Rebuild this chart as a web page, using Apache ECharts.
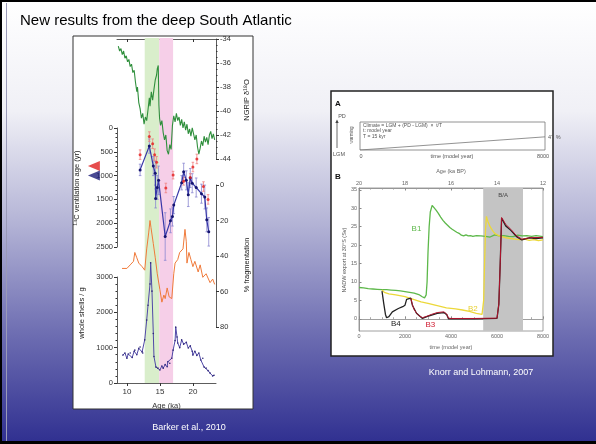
<!DOCTYPE html>
<html><head><meta charset="utf-8">
<script src="https://cdn.jsdelivr.net/npm/echarts@6/dist/echarts.min.js"></script>
<style>html,body{margin:0;padding:0;background:#fff;}#c{width:596px;height:444px;}</style>
</head><body><div id="c"></div>
<script>
// ---------- LEFT PANEL DATA (Barker et al., 2010) ----------
const ageTicks = [10, 15, 20];
const greenBand = [12.7, 14.9];
const pinkBand = [14.9, 17.0];
// NGRIP d18O [age ka, permil]
const ngrip = [[8.7,-34.6],[8.9,-35.0],[9.1,-34.8],[9.3,-35.3],[9.5,-35.0],[9.7,-35.6],[9.9,-35.4],[10.1,-35.9],[10.3,-35.7],[10.5,-36.3],[10.7,-36.1],[10.9,-36.8],[11.1,-36.6],[11.3,-37.6],[11.5,-38.4],[11.6,-38.0],[11.8,-39.3],[12.0,-39.8],[12.2,-40.6],[12.4,-40.2],[12.6,-41.1],[12.8,-40.5],[13.0,-40.8],[13.2,-39.9],[13.4,-38.9],[13.5,-39.6],[13.7,-38.4],[13.9,-39.1],[14.1,-38.2],[14.3,-37.4],[14.5,-37.0],[14.6,-36.5],[14.75,-36.2],[14.85,-39.5],[14.95,-40.6],[15.1,-41.2],[15.3,-40.8],[15.5,-41.8],[15.7,-42.4],[15.9,-42.0],[16.1,-43.3],[16.3,-43.6],[16.5,-42.8],[16.7,-43.2],[16.9,-41.2],[17.1,-40.4],[17.3,-40.9],[17.5,-40.2],[17.7,-40.8],[17.9,-40.5],[18.1,-41.2],[18.3,-40.7],[18.5,-41.4],[18.7,-40.9],[18.9,-41.6],[19.1,-41.1],[19.3,-41.9],[19.5,-41.5],[19.7,-42.1],[19.9,-41.4],[20.1,-41.9],[20.3,-42.4],[20.5,-42.0],[20.7,-43.0],[20.9,-43.6],[21.1,-43.1],[21.3,-42.5],[21.5,-42.9],[21.7,-42.1],[21.9,-42.6],[22.1,-42.2],[22.3,-42.8],[22.5,-42.0],[22.7,-41.7],[22.9,-42.3],[23.1,-41.9],[23.3,-42.4]];
// 14C ventilation age [age ka, yr, error]
const ventBlue = [[12.0,880,120],[13.4,380,150],[14.0,800,200],[14.3,950,250],[14.35,1480,200],[14.6,1250,250],[14.8,1100,300],[15.8,2280,500],[16.6,1950,250],[16.9,1860,200],[17.1,1620,180],[18.3,1150,150],[18.6,920,180],[19.0,1100,200],[19.3,1400,250],[19.6,1050,200],[19.9,1160,200],[20.5,1250,200],[21.3,1380,200],[21.8,1450,250],[22.1,1930,250],[22.4,2180,300]];
const ventRed = [[12.0,560,100],[13.4,180,100],[13.9,330,100],[14.2,560,120],[14.5,720,120],[15.9,1260,100],[17.0,990,80],[18.6,1120,80],[19.6,1040,80],[20.0,820,100],[20.6,650,100],[21.6,1230,100],[22.3,1500,100]];
const modernMarkers = [[5.0,800],[5.0,1000]];
// % fragmentation [age ka, %]
const frag = [[9.26,47],[10.0,47],[10.5,45],[11.0,43],[11.2,38],[11.5,41],[11.8,44],[12.3,46],[12.7,48],[13.0,36],[13.3,27],[13.5,20],[13.65,24],[14.0,33],[14.3,41],[14.6,50],[15.0,59],[15.3,66],[15.6,62],[15.8,64],[16.1,58],[16.4,63],[16.8,64],[17.1,50],[17.3,44],[17.7,42],[18.0,38],[18.5,36],[18.8,25],[19.0,32],[19.1,44],[19.4,38],[19.7,42],[20.0,46],[20.3,43],[20.8,49],[21.1,45],[21.5,52],[22.0,50],[22.6,55],[23.0,53],[23.3,56]];
// whole shells / g [age ka, count]
const shells = [[9.4,790],[9.7,850],[10.0,700],[10.2,820],[10.5,850],[10.8,720],[11.1,900],[11.2,930],[11.5,800],[11.8,980],[12.0,1020],[12.3,880],[12.4,850],[12.7,1220],[13.0,1780],[13.2,2200],[13.5,2800],[13.6,3400],[13.8,2600],[14.0,1400],[14.1,750],[14.4,450],[14.7,420],[15.0,370],[15.3,480],[15.5,420],[15.8,520],[16.1,460],[16.2,600],[16.5,560],[16.8,700],[17.0,930],[17.3,1200],[17.4,1580],[17.6,1300],[17.7,1130],[18.0,1000],[18.3,1220],[18.6,1100],[19.0,1150],[19.3,990],[19.6,1050],[19.9,900],[20.0,790],[20.3,900],[20.6,780],[20.9,850],[21.2,650],[21.5,700],[21.7,450],[22.0,420],[22.3,350],[22.6,280],[23.0,200],[23.2,220]];

// ---------- RIGHT PANEL DATA (Knorr and Lohmann, 2007) ----------
const rampA = [[0,0],[8000,47]];
const baBand = [5400, 7130];
const svTicks = [0,5,10,15,20,25,30,35];
const b1 = [[0,8.5],[200,8.4],[400,8.2],[600,8.1],[800,8.0],[1000,7.9],[1200,7.9],[1400,7.8],[1600,7.7],[1800,7.6],[2000,7.4],[2200,7.2],[2400,7.0],[2600,6.6],[2750,6.0],[2850,5.7],[2920,6.5],[2960,10],[3000,18],[3050,25],[3100,29],[3180,30.8],[3250,30.3],[3350,29.5],[3450,28.6],[3550,27.6],[3650,26.7],[3750,26.0],[3850,25.4],[3950,24.8],[4050,24.3],[4150,23.9],[4250,23.5],[4350,23.2],[4450,22.7],[4550,22.5],[4650,22.8],[4750,22.5],[4850,22.6],[4950,22.4],[5100,22.6],[5300,22.5],[5500,22.4],[5700,22.2],[5900,22.8],[6100,22.5],[6300,22.6],[6500,22.4],[6700,22.3],[6900,22.7],[7100,22.5],[7300,22.6],[7500,22.4],[7700,22.6],[8000,22.3]];
const b2 = [[1000,7.8],[1100,7.2],[1300,6.8],[1600,6.5],[2000,6.0],[2400,5.2],[2700,4.6],[3000,4.2],[3400,3.6],[3800,3.0],[4200,2.7],[4500,2.4],[4800,2.0],[5100,1.5],[5350,1.2],[5420,5],[5460,15],[5500,24],[5540,27.8],[5600,26.5],[5700,25],[5800,24],[5900,23.2],[6000,22.8],[6200,22.3],[6400,22.0],[6600,21.8],[6800,21.6],[7000,21.5],[7200,21.6],[7400,21.3],[7600,21.5],[7800,21.2],[8000,21.4]];
const b3 = [[2250,5.6],[2320,3.9],[2400,2.5],[2500,1.6],[2600,0.9],[2760,0.3],[2950,0.7],[3150,1.2],[3400,1.7],[3690,1.9],[3815,1.3],[3890,0.2],[4000,0.1],[5000,0.1],[6000,0.2],[6080,4],[6140,15],[6200,27.5],[6380,25.6],[6600,24.3],[6850,22.5],[7080,21.6],[7400,22.0],[8000,22.1]];
const b4 = [[1000,7.5],[1080,4.0],[1150,1.2],[1200,0.3],[1300,0.6],[1450,1.9],[1710,2.8],[1900,3.3],[2000,3.7],[2070,5.3],[2250,5.6],[2320,3.7],[2500,1.5],[2760,0.1],[2950,0.6],[3400,1.5],[3690,1.7],[3815,1.1],[3890,0.0],[4000,0.0],[5000,0.0],[6000,0.1],[6080,4],[6140,15],[6200,27.3],[6380,25.2],[6600,24.0],[6850,22.3],[7080,21.4],[7400,22.0],[7700,21.8],[8000,22.0]];

const FF = '"Liberation Sans", Arial, sans-serif';
const chart = echarts.init(document.getElementById('c'), null, {renderer:'canvas'});
const plain = v => String(v);

function errRender(color){
  return function(params, api){
    const x = api.value(0), y = api.value(1), e = api.value(2);
    const p1 = api.coord([x, y - e]), p2 = api.coord([x, y + e]);
    const w = 1.3;
    const st = {stroke: color, lineWidth: 0.8};
    return {type:'group', children:[
      {type:'line', shape:{x1:p1[0],y1:p1[1],x2:p2[0],y2:p2[1]}, style:st},
      {type:'line', shape:{x1:p1[0]-w,y1:p1[1],x2:p1[0]+w,y2:p1[1]}, style:st},
      {type:'line', shape:{x1:p2[0]-w,y1:p2[1],x2:p2[0]+w,y2:p2[1]}, style:st}
    ]};
  };
}

const L = 117, W = 99;
const axCol = '#333';
const lblL = {fontSize:7.5, color:'#333', fontFamily:FF, margin:4, formatter:plain};
const lblR = {fontSize:5.5, color:'#666', fontFamily:FF, margin:2, formatter:plain};
const hiddenX = (gi, min, max) => ({gridIndex:gi, type:'value', min, max, show:false});

function txt(x, y, text, size, opts){
  opts = opts || {};
  return {type:'text', x, y, rotation: opts.rot || 0, z: 100,
    style:{text, fill: opts.color || '#222', font: (opts.bold ? 'bold ' : '') + size + 'px ' + FF,
      align: opts.align || 'center', verticalAlign: 'middle'}};
}
function seriesLabel(coord, text, color){
  return {symbol:'circle', symbolSize:1, itemStyle:{color:'rgba(0,0,0,0)'},
    label:{show:true, position:'inside', formatter:text, fontSize:8, color, fontFamily:FF},
    data:[{coord}]};
}

const option = {
  animation: false,
  backgroundColor: 'transparent',
  graphic: [
    {type:'rect', z:-100, shape:{x:0,y:0,width:596,height:444},
      style:{fill: new echarts.graphic.LinearGradient(0,0,0,1,[
        {offset:0,color:'#ffffff'},{offset:0.25,color:'#f0f0f6'},{offset:0.5,color:'#b4b4d6'},
        {offset:0.75,color:'#6e6eb2'},{offset:1,color:'#2f2f90'}])}},
    {type:'rect', z:-99, shape:{x:0,y:0,width:596,height:2}, style:{fill:'#000'}},
    {type:'rect', z:-99, shape:{x:0,y:0,width:2,height:444}, style:{fill:'#000'}},
    {type:'rect', z:-99, shape:{x:0,y:441,width:596,height:3}, style:{fill:'#000'}},
    {type:'line', z:-99, shape:{x1:6.5,y1:3,x2:6.5,y2:441}, style:{stroke:'#9a9ab8', lineWidth:1}},
    {type:'rect', z:-90, shape:{x:73,y:36,width:180,height:373}, style:{fill:'#fff', stroke:'#333', lineWidth:1}},
    {type:'rect', z:-90, shape:{x:331,y:91,width:222,height:265}, style:{fill:'#fff', stroke:'#222', lineWidth:1.5}},
    txt(20, 21, 'New results from the deep South Atlantic', 15, {align:'left', color:'#000'}),
    txt(77, 188, '¹⁴C ventilation age (yr)', 7.5, {rot:Math.PI/2}),
    txt(82, 313, 'whole shells / g', 7.5, {rot:Math.PI/2}),
    txt(247, 100, 'NGRIP δ¹⁸O', 7.5, {rot:Math.PI/2}),
    txt(247, 265, '% fragmentation', 7.5, {rot:Math.PI/2}),
    txt(189, 428, 'Barker et al., 2010', 9, {color:'#fff'}),
    txt(481, 373, 'Knorr and Lohmann, 2007', 9, {color:'#fff'}),
    txt(338, 104, 'A', 8, {bold:true, color:'#111'}),
    txt(338, 177, 'B', 8, {bold:true, color:'#111'}),
    txt(342, 116, 'PD', 5.5, {color:'#555'}),
    txt(339, 154, 'LGM', 5.5, {color:'#555'}),
    {type:'line', z:100, shape:{x1:337,y1:148,x2:337,y2:122}, style:{stroke:'#444', lineWidth:0.8}},
    {type:'polygon', z:100, shape:{points:[[335.3,123],[338.7,123],[337,119.5]]}, style:{fill:'#444'}},
    txt(352, 135, 'warming', 4.5, {rot:Math.PI/2, color:'#555'}),
    txt(363, 125.5, 'Climate = LGM + (PD - LGM)  ×  t/T', 5, {align:'left', color:'#555'}),
    txt(363, 131, 't: model year', 5, {align:'left', color:'#555'}),
    txt(363, 137, 'T = 15 kyr', 5, {align:'left', color:'#555'}),
    txt(548, 137, '47 %', 5.5, {align:'left', color:'#555'}),
    txt(361, 156, '0', 5.5, {color:'#555'}),
    txt(543, 156, '8000', 5.5, {color:'#555'}),
    txt(452, 156, 'time (model year)', 5.5, {color:'#555'}),
    txt(344, 260, 'NADW export at 30°S (Sv)', 5.5, {rot:Math.PI/2, color:'#555'})
  ],
  grid: [
    {left:L, top:38, width:W, height:345},          // 0 bands
    {left:L, top:39, width:W, height:120},          // 1 NGRIP
    {left:L, top:128, width:W, height:119},         // 2 ventilation
    {left:L, top:185, width:W, height:142},         // 3 fragmentation
    {left:L, top:277, width:W, height:106},         // 4 shells
    {left:360, top:122, width:185, height:28, show:true, borderColor:'#777', borderWidth:0.8}, // 5 panel A
    {left:359, top:188, width:184, height:143, show:true, borderColor:'#888', borderWidth:0.8}  // 6 panel B
  ],
  xAxis: [
    hiddenX(0, 8.5, 23.5),
    {gridIndex:1, type:'value', min:8.5, max:23.5, position:'top', splitLine:{show:false},
      axisLine:{lineStyle:{color:axCol, width:0.8}}, axisLabel:{show:false},
      axisTick:{inside:true, length:3, customValues:ageTicks, lineStyle:{color:axCol}}},
    hiddenX(2, 8.5, 23.5),
    hiddenX(3, 8.5, 23.5),
    {gridIndex:4, type:'value', min:8.5, max:23.5, position:'bottom', splitLine:{show:false},
      axisLine:{lineStyle:{color:axCol, width:0.8}},
      axisTick:{length:3, customValues:ageTicks, lineStyle:{color:axCol}},
      axisLabel:{customValues:ageTicks, fontSize:8, color:'#333', fontFamily:FF, margin:5, formatter:plain},
      name:'Age (ka)', nameLocation:'middle', nameGap:19, nameTextStyle:{fontSize:7.5, color:'#333', fontFamily:FF}},
    hiddenX(5, 0, 8000),
    {gridIndex:6, type:'value', min:0, max:8000, interval:2000, position:'bottom', splitLine:{show:false},
      axisLine:{lineStyle:{color:'#888', width:0.8}}, axisTick:{inside:true, length:2.5, lineStyle:{color:'#888'}},
      minorTick:{show:true, splitNumber:4, length:1.5, lineStyle:{color:'#999'}},
      axisLabel:lblR,
      name:'time (model year)', nameLocation:'middle', nameGap:13, nameTextStyle:{fontSize:5.5, color:'#666', fontFamily:FF}},
    {gridIndex:6, type:'value', min:12, max:20, interval:2, inverse:true, position:'top', splitLine:{show:false},
      axisLine:{lineStyle:{color:'#888', width:0.8}}, axisTick:{inside:true, length:2.5, lineStyle:{color:'#888'}},
      minorTick:{show:true, splitNumber:4, length:1.5, lineStyle:{color:'#999'}},
      axisLabel:lblR,
      name:'Age (ka BP)', nameLocation:'middle', nameGap:14, nameTextStyle:{fontSize:5.5, color:'#666', fontFamily:FF}}
  ],
  yAxis: [
    {gridIndex:0, type:'value', min:0, max:1, show:false},
    {gridIndex:1, type:'value', min:-44, max:-34, interval:2, position:'right', splitLine:{show:false},
      axisLine:{show:true, lineStyle:{color:axCol, width:0.8}}, axisTick:{length:3, lineStyle:{color:axCol}},
      minorTick:{show:true, splitNumber:4, length:1.5, lineStyle:{color:axCol}},
      axisLabel:lblL},
    {gridIndex:2, type:'value', min:0, max:2500, interval:500, inverse:true, position:'left', splitLine:{show:false},
      axisLine:{show:true, lineStyle:{color:axCol, width:0.8}}, axisTick:{length:3, lineStyle:{color:axCol}},
      minorTick:{show:true, splitNumber:5, length:1.5, lineStyle:{color:axCol}},
      axisLabel:lblL},
    {gridIndex:3, type:'value', min:0, max:80, interval:20, inverse:true, position:'right', splitLine:{show:false},
      axisLine:{show:true, lineStyle:{color:axCol, width:0.8}}, axisTick:{length:3, lineStyle:{color:axCol}},
      axisLabel:lblL},
    {gridIndex:4, type:'value', min:0, max:3000, interval:1000, position:'left', splitLine:{show:false},
      axisLine:{show:true, lineStyle:{color:axCol, width:0.8}}, axisTick:{length:3, lineStyle:{color:axCol}},
      minorTick:{show:true, splitNumber:5, length:1.5, lineStyle:{color:axCol}},
      axisLabel:lblL},
    {gridIndex:5, type:'value', min:0, max:100, show:false},
    {gridIndex:6, type:'value', min:-3.3, max:35.5, splitLine:{show:false},
      axisLine:{show:true, lineStyle:{color:'#888', width:0.8}},
      axisTick:{inside:true, length:2.5, customValues:svTicks, lineStyle:{color:'#888'}},
      axisLabel:Object.assign({customValues:svTicks}, lblR)}
  ],
  series: [
    {type:'line', xAxisIndex:0, yAxisIndex:0, data:[], z:0, silent:true,
      markArea:{silent:true, data:[
        [{xAxis:greenBand[0], itemStyle:{color:'#d9eecb'}},{xAxis:greenBand[1]}],
        [{xAxis:pinkBand[0], itemStyle:{color:'#f6cfe8'}},{xAxis:pinkBand[1]}]
      ]}},
    {type:'line', xAxisIndex:1, yAxisIndex:1, data:ngrip, showSymbol:false, z:3,
      lineStyle:{color:'#2f8f3c', width:1.1}},
    {type:'line', xAxisIndex:3, yAxisIndex:3, data:frag, showSymbol:false, z:3,
      lineStyle:{color:'#f07a3a', width:1}},
    {type:'line', xAxisIndex:4, yAxisIndex:4, data:shells, z:4, clip:false,
      symbol:'circle', symbolSize:1.6, itemStyle:{color:'#2c2478'},
      lineStyle:{color:'#5048a8', width:1}},
    {type:'custom', xAxisIndex:2, yAxisIndex:2, data:ventBlue, z:4, renderItem:errRender('#8a86d0'), clip:false},
    {type:'custom', xAxisIndex:2, yAxisIndex:2, data:ventRed, z:5, renderItem:errRender('#f08080'), clip:false},
    {type:'line', xAxisIndex:2, yAxisIndex:2, data:ventBlue.map(d=>[d[0],d[1]]), z:6,
      symbol:'circle', symbolSize:3, itemStyle:{color:'#141470'}, lineStyle:{color:'#3838a8', width:1.2}},
    {type:'scatter', xAxisIndex:2, yAxisIndex:2, data:ventRed.map(d=>[d[0],d[1]]), z:7,
      symbol:'circle', symbolSize:3, itemStyle:{color:'#e41e1e'}},
    {type:'scatter', xAxisIndex:2, yAxisIndex:2, data:[modernMarkers[0]], z:7, clip:false,
      symbol:'triangle', symbolSize:[10,12], symbolRotate:90, itemStyle:{color:'#e02020'}},
    {type:'scatter', xAxisIndex:2, yAxisIndex:2, data:[modernMarkers[1]], z:7, clip:false,
      symbol:'triangle', symbolSize:[10,12], symbolRotate:90, itemStyle:{color:'#1c1c78'}},
    // Panel A
    {type:'line', xAxisIndex:5, yAxisIndex:5, data:rampA, showSymbol:false, lineStyle:{color:'#777', width:0.8}},
    // Panel B
    {type:'line', xAxisIndex:6, yAxisIndex:6, data:[], silent:true, z:1,
      markArea:{silent:true, itemStyle:{color:'#c4c4c4'},
        label:{show:true, position:'insideTop', distance:4, formatter:'B/A', fontSize:6, color:'#444', fontFamily:FF},
        data:[[{xAxis:baBand[0]},{xAxis:baBand[1]}]]}},
    {type:'line', xAxisIndex:6, yAxisIndex:6, data:b1, showSymbol:false, z:3, lineStyle:{color:'#5db84a', width:1.3},
      markPoint:seriesLabel([2500,24.5], 'B1', '#5db84a')},
    {type:'line', xAxisIndex:6, yAxisIndex:6, data:b2, showSymbol:false, z:4, lineStyle:{color:'#ecd83a', width:1.3},
      markPoint:seriesLabel([4950,2.6], 'B2', '#e8d030')},
    {type:'line', xAxisIndex:6, yAxisIndex:6, data:b4, showSymbol:false, z:5, lineStyle:{color:'#222', width:1.3},
      markPoint:seriesLabel([1600,-1.4], 'B4', '#222')},
    {type:'line', xAxisIndex:6, yAxisIndex:6, data:b3, showSymbol:false, z:6, lineStyle:{color:'#b0122c', width:1.0},
      markPoint:seriesLabel([3100,-1.6], 'B3', '#d01a30')}
  ]
};
chart.setOption(option);
</script></body></html>
